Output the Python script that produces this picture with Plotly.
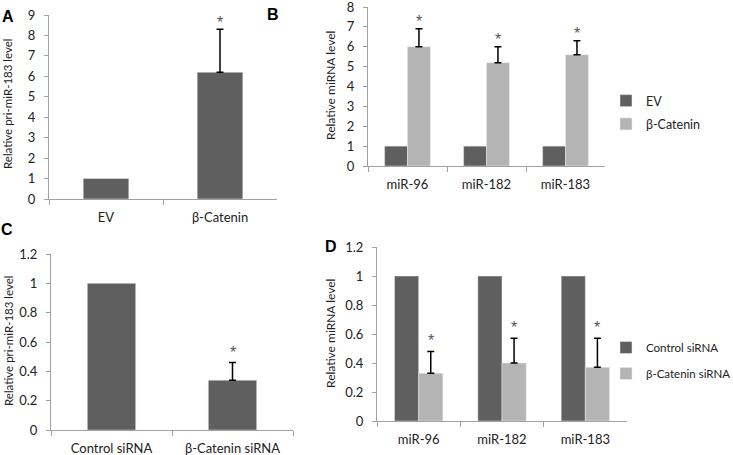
import plotly.graph_objects as go

W, H = 733, 455

# ---------------- data ----------------
a_cats = ["EV", "β-Catenin"]
a_vals = [1.0, 6.2]
a_err_cat = 2.1          # upper error of the β-Catenin bar

b_cats = ["miR-96", "miR-182", "miR-183"]
b_ev = [1.0, 1.0, 1.0]
b_cat = [6.0, 5.2, 5.6]
b_cat_err = [0.9, 0.8, 0.7]

c_cats = ["Control siRNA", "β-Catenin siRNA"]
c_vals = [1.0, 0.34]
c_err_cat = 0.12

d_cats = ["miR-96", "miR-182", "miR-183"]
d_ctrl = [1.0, 1.0, 1.0]
d_si = [0.33, 0.40, 0.37]
d_si_err = [0.15, 0.17, 0.20]

DARK = "#5f5f5f"
LIGHT = "#b4b4b4"
AXC = "#a0a0a0"
FONT = "Lato, 'Liberation Sans', sans-serif"


def px(x):
    return x / W


def py(y):
    return 1 - y / H


err_style = dict(type="data", symmetric=False, color="black", thickness=1.5, width=3.5)

fig = go.Figure()

# Panel A
fig.add_trace(go.Bar(x=a_cats[:1], y=a_vals[:1], marker_color=DARK, width=0.4, showlegend=False,
                     offsetgroup="a", xaxis="x", yaxis="y"))
fig.add_trace(go.Bar(x=a_cats[1:], y=a_vals[1:], marker_color=DARK, width=0.4, showlegend=False,
                     offsetgroup="a",
                     error_y=dict(array=[a_err_cat], arrayminus=[0], **err_style),
                     xaxis="x", yaxis="y"))
# Panel B
fig.add_trace(go.Bar(x=b_cats, y=b_ev, name="EV", marker_color=DARK, legend="legend",
                     legendgroup="b1", xaxis="x2", yaxis="y2"))
fig.add_trace(go.Bar(x=b_cats, y=b_cat, name="β-Catenin", marker_color=LIGHT, legend="legend",
                     legendgroup="b2",
                     error_y=dict(array=b_cat_err, arrayminus=[0] * 3, **err_style),
                     xaxis="x2", yaxis="y2"))
# Panel C
fig.add_trace(go.Bar(x=c_cats[:1], y=c_vals[:1], marker_color=DARK, width=0.4, showlegend=False,
                     offsetgroup="c", xaxis="x3", yaxis="y3"))
fig.add_trace(go.Bar(x=c_cats[1:], y=c_vals[1:], marker_color=DARK, width=0.4, showlegend=False,
                     offsetgroup="c",
                     error_y=dict(array=[c_err_cat], arrayminus=[0], **err_style),
                     xaxis="x3", yaxis="y3"))
# Panel D
fig.add_trace(go.Bar(x=d_cats, y=d_ctrl, name="Control siRNA", marker_color=DARK, legend="legend2",
                     legendgroup="d1", xaxis="x4", yaxis="y4"))
fig.add_trace(go.Bar(x=d_cats, y=d_si, name="β-Catenin siRNA", marker_color=LIGHT, legend="legend2",
                     legendgroup="d2",
                     error_y=dict(array=d_si_err, arrayminus=[0] * 3, **err_style),
                     xaxis="x4", yaxis="y4"))

tickfont = dict(family=FONT, size=13, color="#222")


def xax(domain, anchor):
    return dict(domain=domain, anchor=anchor, type="category", showline=True, linecolor=AXC,
                linewidth=1, ticks="outside", tickson="boundaries", ticklen=5, tickcolor=AXC,
                tickfont=tickfont, showgrid=False, zeroline=False, fixedrange=True,
                ticklabelstandoff=6, automargin=False, ticklabeloverflow="allow")


def yax(domain, anchor, rng, dtick):
    return dict(domain=domain, anchor=anchor, range=rng, dtick=dtick, showline=True, linecolor=AXC,
                linewidth=1, ticks="outside", ticklen=4, tickcolor=AXC, tickfont=tickfont,
                showgrid=False, zeroline=False, fixedrange=True, ticklabelstandoff=6,
                automargin=False, ticklabeloverflow="allow")


fig.update_layout(
    width=W, height=H, margin=dict(l=0, r=0, t=0, b=0, autoexpand=False),
    paper_bgcolor="white", plot_bgcolor="white",
    barmode="group", bargap=0.42, bargroupgap=0,
    font=dict(family=FONT, color="#222"),
    xaxis=xax([px(49), px(277)], "y"),
    yaxis=yax([py(199), py(15)], "x", [0, 9], 1),
    xaxis2=xax([px(368), px(605)], "y2"),
    yaxis2=yax([py(166), py(7)], "x2", [0, 8], 1),
    xaxis3=xax([px(51), px(293)], "y3"),
    yaxis3=yax([py(430), py(254)], "x3", [0, 1.2], 0.2),
    xaxis4=xax([px(377), px(627)], "y4"),
    yaxis4=yax([py(421), py(247)], "x4", [0, 1.2], 0.2),
    legend=dict(x=px(606), y=py(86), xanchor="left", yanchor="top", tracegroupgap=4,
                font=dict(family=FONT, size=12.5, color="#222"), bgcolor="rgba(0,0,0,0)"),
    legend2=dict(x=px(606), y=py(333), xanchor="left", yanchor="top", tracegroupgap=7,
                 font=dict(family=FONT, size=11.5, color="#222"), bgcolor="rgba(0,0,0,0)"),
)

ann = []
# axis titles
titles = [
    ("Relative pri-miR-183 level", 8, 104, 11.5),
    ("Relative miRNA level", 330, 86, 12),
    ("Relative pri-miR-183 level", 8, 341, 11.5),
    ("Relative miRNA level", 330, 334, 12),
]
for t, x, y, s in titles:
    ann.append(dict(text=t, x=px(x), y=py(y), xref="paper", yref="paper", showarrow=False,
                    xanchor="center", yanchor="middle",
                    textangle=-90, font=dict(family=FONT, size=s, color="#222")))
# panel letters
for t, x, y in [("A", 8, 17), ("B", 273, 15), ("C", 7, 229), ("D", 331, 247)]:
    ann.append(dict(text="<b>%s</b>" % t, x=px(x), y=py(y), xref="paper", yref="paper",
                    xanchor="center", yanchor="middle",
                    showarrow=False, font=dict(family="Liberation Sans, Arial", size=16, color="black")))

star_font = dict(family="Liberation Sans, Arial", size=16, color="#555")
# stars
ann.append(dict(text="*", x=1, y=a_vals[1] + a_err_cat, xref="x", yref="y", showarrow=False,
                xanchor="center", yanchor="bottom", yshift=-4, font=star_font))
off = (1 - 0.42) / 4
for i, (v, e) in enumerate(zip(b_cat, b_cat_err)):
    ann.append(dict(text="*", x=i + off, y=v + e, xref="x2", yref="y2", showarrow=False,
                    xanchor="center", yanchor="bottom", yshift=-3, font=star_font))
ann.append(dict(text="*", x=1, y=c_vals[1] + c_err_cat, xref="x3", yref="y3", showarrow=False,
                xanchor="center", yanchor="bottom", yshift=0, font=star_font))
for i, (v, e) in enumerate(zip(d_si, d_si_err)):
    ann.append(dict(text="*", x=i + off, y=v + e, xref="x4", yref="y4", showarrow=False,
                    xanchor="center", yanchor="bottom", yshift=0, font=star_font))

fig.update_layout(annotations=ann)
fig.write_html("out.html", config={"displayModeBar": False},
               post_script="document.body.style.margin='0';document.body.style.overflow='hidden';")
